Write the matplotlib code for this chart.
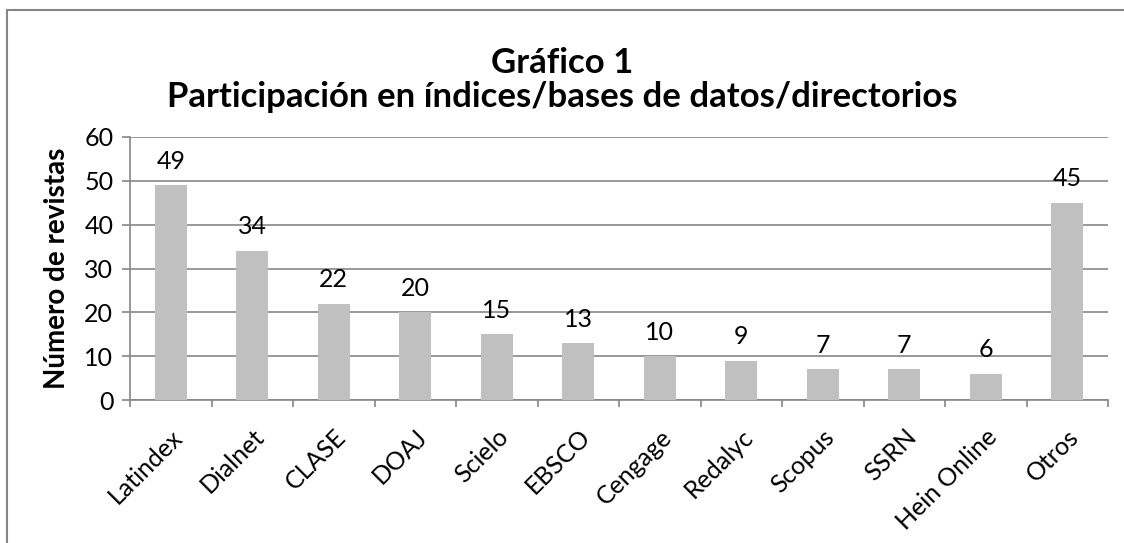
import matplotlib.pyplot as plt
from matplotlib.patches import Rectangle
from matplotlib.transforms import ScaledTranslation
import numpy as np

plt.rcParams['font.family'] = ['Lato', 'DejaVu Sans']

categorias = ['Latindex', 'Dialnet', 'CLASE', 'DOAJ', 'Scielo', 'EBSCO',
              'Cengage', 'Redalyc', 'Scopus', 'SSRN', 'Hein Online', 'Otros']
revistas = [49, 34, 22, 20, 15, 13, 10, 9, 7, 7, 6, 45]
yticks = [0, 10, 20, 30, 40, 50, 60]

W, H = 1124, 543
fig = plt.figure(figsize=(W / 100, H / 100), dpi=100)
# chart border: only left and top edges are visible (cropped picture)
top = (H - 10) / H
fig.patches.append(Rectangle((7 / W, -0.1), 1.2, top + 0.1,
                             transform=fig.transFigure, fill=False,
                             edgecolor='#868686', linewidth=1.5))

ax = fig.add_axes([130 / W, (H - 400) / H, (1108 - 130) / W, (400 - 137) / H])
x = np.arange(len(categorias))
ax.bar(x, revistas, width=0.39, color='#C0C0C0', zorder=3)
for xi, v in zip(x, revistas):
    ax.annotate(str(v), (xi, v), xytext=(0, 9), textcoords='offset points',
                ha='center', va='bottom', fontsize=18, zorder=4)

ax.set_xlim(-0.5, len(categorias) - 0.5)
ax.set_ylim(0, 60)
ax.set_yticks(yticks)
ax.yaxis.grid(True, color='#868686', linewidth=1.2, zorder=0)
ax.tick_params(axis='y', length=6, width=1.2, color='#868686', labelsize=18, pad=6)

ax.set_xticks(np.arange(len(categorias) + 1) - 0.5, minor=False)
ax.set_xticklabels([])
ax.set_xticks(x, minor=True)
ax.set_xticklabels(categorias, minor=True, rotation=45, ha='right',
                   rotation_mode='anchor', fontsize=18)
shift = ScaledTranslation(6 / 100, 0, fig.dpi_scale_trans)
for lab in ax.get_xticklabels(minor=True):
    lab.set_transform(lab.get_transform() + shift)
ax.tick_params(axis='x', which='major', length=5, width=1.2, color='#868686')
ax.tick_params(axis='x', which='minor', length=0, pad=18)

for s in ['top', 'right']:
    ax.spines[s].set_visible(False)
for s in ['left', 'bottom']:
    ax.spines[s].set_color('#868686')
    ax.spines[s].set_linewidth(1.2)

ax.set_ylabel('Número de revistas', fontsize=20, fontweight='bold', labelpad=10)

fig.text(0.5, 1 - 63 / H, 'Gráfico 1', ha='center', va='center',
         fontsize=25, fontweight='bold')
fig.text(0.5, 1 - 97 / H, 'Participación en índices/bases de datos/directorios',
         ha='center', va='center', fontsize=25, fontweight='bold')

fig.savefig('out.png', dpi=100)
